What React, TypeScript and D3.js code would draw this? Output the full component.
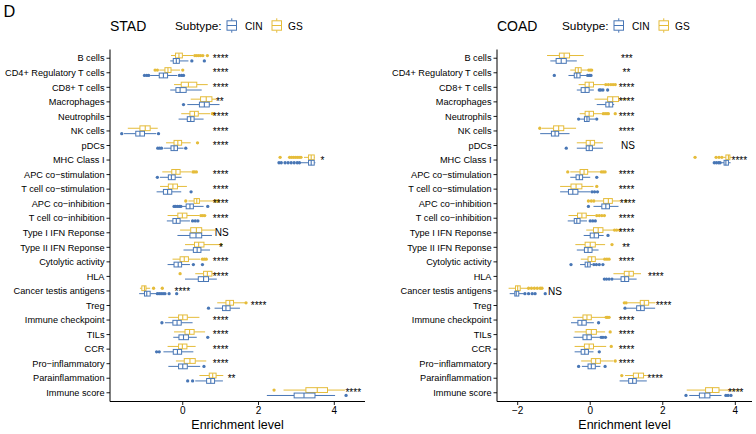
import React from "react";
import * as d3 from "d3";

const CATEGORIES = [
  "B cells", "CD4+ Regulatory T cells", "CD8+ T cells", "Macrophages", "Neutrophils", "NK cells", "pDCs",
  "MHC Class I", "APC co\u2212stimulation", "T cell co\u2212stimulation", "APC co\u2212inhibition", "T cell co\u2212inhibition",
  "Type I IFN Reponse", "Type II IFN Reponse", "Cytolytic activity", "HLA", "Cancer testis antigens", "Treg",
  "Immune checkpoint", "TILs", "CCR", "Pro\u2212inflammatory", "Parainflammation", "Immune score",
];

const SUBTYPES = ["CIN", "GS"];

// [lower whisker, q1, median, q3, upper whisker]
const STAD_GS_STATS = [
  [-0.31, -0.19, -0.1, -0.01, 0.28], [-0.62, -0.47, -0.39, -0.31, -0.07], [-0.23, -0.04, 0.15, 0.37, 0.66],
  [0.21, 0.47, 0.62, 0.77, 0.9], [-0.04, 0.19, 0.31, 0.41, 0.72], [-1.45, -1.13, -0.99, -0.86, -0.66],
  [-0.44, -0.23, -0.13, -0.03, 0.21], [3.2, 3.32, 3.39, 3.47, 3.49], [-0.54, -0.29, -0.18, -0.07, 0.22],
  [-0.6, -0.38, -0.26, -0.14, 0.11], [0.15, 0.3, 0.37, 0.44, 0.8], [-0.4, -0.13, -0.01, 0.11, 0.44],
  [-0.07, 0.21, 0.36, 0.5, 0.85], [0.06, 0.31, 0.42, 0.56, 0.98], [-0.27, -0.07, 0.04, 0.15, 0.46],
  [0.33, 0.55, 0.65, 0.77, 0.94], [-1.13, -1.08, -1.01, -0.97, -0.86], [0.91, 1.14, 1.24, 1.34, 1.64],
  [-0.38, -0.11, 0.0, 0.12, 0.44], [-0.23, 0.06, 0.18, 0.3, 0.59], [-0.4, -0.11, -0.01, 0.11, 0.34],
  [-0.18, 0.04, 0.19, 0.33, 0.62], [0.44, 0.7, 0.79, 0.88, 1.07], [2.66, 3.25, 3.55, 3.82, 4.28],
];
const STAD_GS_OUT = [
  [0.32, 0.37, 0.42, 0.47, 0.53, 0.65], [-0.73, -0.67, 0.0], [], [], [0.78, 0.81], [], [0.39],
  [2.57, 2.82, 2.87, 2.92, 2.97, 3.02, 3.07, 3.12], [0.27, 0.31, 0.36], [], [0.08, 0.85, 0.9, 0.94], [0.48, 0.53, 0.58],
  [], [1.01], [0.52, 0.57, 0.62], [-0.07], [-0.77, -0.54], [1.67], [], [], [], [], [], [2.41],
];
const STAD_CIN_STATS = [
  [-0.33, -0.25, -0.17, -0.09, 0.15], [-0.86, -0.62, -0.51, -0.4, -0.15], [-0.33, -0.18, -0.07, 0.09, 0.5],
  [0.12, 0.44, 0.57, 0.7, 0.97], [-0.11, 0.12, 0.21, 0.3, 0.55], [-1.55, -1.24, -1.13, -1.01, -0.7],
  [-0.5, -0.31, -0.23, -0.14, 0.02], [3.12, 3.32, 3.39, 3.47, 3.5], [-0.6, -0.38, -0.3, -0.2, -0.03],
  [-0.69, -0.51, -0.4, -0.29, -0.04], [-0.02, 0.09, 0.19, 0.28, 0.55], [-0.42, -0.26, -0.17, -0.07, 0.19],
  [-0.14, 0.19, 0.35, 0.5, 0.77], [0.02, 0.28, 0.38, 0.48, 0.72], [-0.4, -0.23, -0.12, -0.03, 0.19],
  [0.06, 0.41, 0.55, 0.68, 0.9], [-1.15, -1.01, -0.95, -0.86, -0.7], [0.84, 1.05, 1.14, 1.25, 1.51],
  [-0.47, -0.26, -0.15, -0.04, 0.26], [-0.25, -0.1, 0.02, 0.15, 0.37], [-0.51, -0.25, -0.14, -0.03, 0.28],
  [-0.38, -0.11, 0.0, 0.12, 0.46], [0.33, 0.63, 0.74, 0.84, 1.06], [2.22, 2.94, 3.2, 3.49, 4.02],
];
const STAD_CIN_OUT = [
  [0.24, 0.57], [-1.01, -0.95, -0.9, -0.09, -0.03, 0.02], [], [0.02], [], [-1.61, -0.64], [-0.66, -0.61, -0.56, 0.08],
  [2.54, 2.6, 2.7, 2.78, 2.86, 2.94, 3.02, 3.08], [-0.67], [0.22], [-0.23, -0.19, -0.14, -0.09, -0.05, 0.66],
  [0.26, 0.33, 0.4], [], [], [0.28, 0.52], [], [-0.67, -0.62, -0.57, -0.52, -0.47, -0.36, -0.16], [0.68], [-0.55],
  [0.66], [-0.69, -0.62], [0.56], [0.13, 0.26], [4.31],
];
const STAD_SIG = ["****", "****", "****", "**", "****", "****", "****", "*", "****", "****", "****", "****",
  "NS", "*", "****", "****", "****", "****", "****", "****", "****", "****", "**", "****"];
const STAD_SIG_X = [1, 1, 1, 0.98, 1, 1, 1, 3.69, 1, 1, 1, 1, 1.03, 1.01, 1, 1, -0.01, 2.0, 1, 1, 1, 1, 1.29, 4.5];

const COAD_GS_STATS = [
  [-1.19, -0.85, -0.72, -0.57, -0.18], [-0.55, -0.41, -0.33, -0.25, -0.07], [-0.32, -0.14, -0.03, 0.09, 0.4],
  [0.12, 0.48, 0.62, 0.78, 1.06], [-0.29, -0.14, -0.03, 0.09, 0.32], [-1.33, -1.01, -0.87, -0.73, -0.39],
  [-0.37, -0.11, 0.0, 0.12, 0.35], [3.67, 3.74, 3.81, 3.85, 3.9], [-0.55, -0.28, -0.17, -0.07, 0.28],
  [-0.83, -0.53, -0.39, -0.23, 0.09], [0.14, 0.37, 0.5, 0.61, 0.83], [-0.6, -0.35, -0.23, -0.11, 0.14],
  [-0.11, 0.09, 0.22, 0.35, 0.64], [-0.41, -0.14, 0.0, 0.14, 0.41], [-0.26, -0.06, 0.04, 0.14, 0.37],
  [0.64, 0.94, 1.07, 1.19, 1.4], [-2.25, -2.06, -2.0, -1.93, -1.74], [1.03, 1.38, 1.49, 1.61, 1.79],
  [-0.48, -0.2, -0.09, 0.03, 0.41], [-0.43, -0.11, 0.03, 0.17, 0.41], [-0.43, -0.16, -0.03, 0.09, 0.44],
  [-0.25, 0.03, 0.15, 0.28, 0.64], [0.96, 1.19, 1.33, 1.47, 1.56], [2.66, 3.18, 3.37, 3.55, 4.17],
];
const COAD_GS_OUT = [
  [], [-0.04, 0.0, 0.04], [0.43, 0.5, 0.57, 0.63, 0.69], [], [0.36, 0.41, 0.46, 0.5, 0.69], [-1.39], [],
  [2.89, 3.47, 3.55, 3.63], [-0.62, 0.31, 0.36, 0.41], [0.18], [-0.05, 0.03, 0.1, 0.98], [0.18, 0.25, 0.32, 0.39],
  [0.67, 0.73, 0.81], [0.6], [0.4, 0.46, 0.52], [], [-1.7, -1.62, -1.54, -1.46, -1.38, -1.33], [0.94, 0.99],
  [0.44, 0.48, 0.52], [0.55], [0.58], [0.69], [0.87], [],
];
const COAD_CIN_STATS = [
  [-1.1, -0.94, -0.8, -0.66, -0.37], [-0.6, -0.44, -0.37, -0.28, -0.1], [-0.37, -0.25, -0.14, -0.03, 0.1],
  [0.18, 0.43, 0.52, 0.62, 0.66], [-0.28, -0.16, -0.09, -0.03, 0.14], [-1.38, -1.07, -0.97, -0.87, -0.57],
  [-0.37, -0.11, -0.03, 0.06, 0.35], [3.6, 3.69, 3.74, 3.81, 3.87], [-0.55, -0.39, -0.3, -0.21, 0.0],
  [-0.83, -0.6, -0.48, -0.34, 0.0], [0.09, 0.32, 0.43, 0.53, 0.78], [-0.62, -0.44, -0.37, -0.28, -0.09],
  [-0.18, 0.0, 0.11, 0.23, 0.37], [-0.37, -0.16, -0.06, 0.05, 0.23], [-0.28, -0.14, -0.07, 0.0, 0.05],
  [0.64, 0.85, 0.95, 1.06, 1.28], [-2.22, -2.08, -2.04, -1.97, -1.83], [1.01, 1.28, 1.39, 1.49, 1.79],
  [-0.53, -0.34, -0.23, -0.11, 0.1], [-0.46, -0.2, -0.09, 0.03, 0.26], [-0.43, -0.25, -0.15, -0.05, 0.09],
  [-0.23, -0.06, 0.03, 0.14, 0.28], [0.81, 1.06, 1.17, 1.27, 1.56], [2.73, 3.01, 3.16, 3.3, 3.62],
];
const COAD_CIN_OUT = [
  [], [-0.99, -0.07, -0.02, 0.02], [0.25, 0.29, 0.35, 0.48], [], [-0.32, 0.18], [], [-0.66],
  [3.42, 3.48, 3.54, 3.58], [0.18], [0.05, 0.12, 0.2], [-0.05], [0.0, 0.07, 0.14], [0.49], [],
  [-0.53, 0.1, 0.17, 0.25, 0.35], [0.39, 0.45, 0.52, 0.6], [-1.8, -1.7, -1.6, -1.52, -1.24], [0.96], [0.23],
  [0.3, 0.35, 0.42], [0.25], [-0.32, 0.41], [], [2.64, 3.74, 3.8, 3.88],
];
const COAD_SIG = ["***", "**", "****", "****", "****", "****", "NS", "****", "****", "****", "****", "****",
  "****", "**", "****", "****", "NS", "****", "****", "****", "****", "****", "****", "****"];
const COAD_SIG_X = [1.01, 1.0, 1, 1, 1, 1, 1.04, 4.11, 1, 1, 1.03, 1, 1, 0.99, 1, 1.81, -0.97, 2.02, 1, 1, 1, 1, 1.79, 4.01];

const STAD_TICKS = [0, 2, 4];
const COAD_TICKS = [-2, 0, 2, 4];

const COLORS: Record<string, string> = { CIN: "#4876B5", GS: "#E5BC3A" };
const FONT = "'Liberation Sans', Arial, Helvetica, sans-serif";

type PanelProps = {
  title: string;
  x0: number;
  x1: number;
  domain: [number, number];
  ticks: number[];
  legendX: number;
  gsStats: number[][];
  gsOut: number[][];
  cinStats: number[][];
  cinOut: number[][];
  sig: string[];
  sigX: number[];
};

const TOP = 49.5;
const BOTTOM = 401.5;
const BOX_H = 4.8;
const OFFSET = 2.7;

function LegendKey({ x, color }: { x: number; color: string }) {
  const w = 9.5;
  const cx = x + w / 2;
  return (
    <g stroke={color} strokeWidth={1} fill="white">
      <line x1={cx} x2={cx} y1={18.3} y2={20.8} />
      <line x1={cx} x2={cx} y1={30.2} y2={32.7} />
      <rect x={x} y={20.8} width={w} height={9.4} />
      <line x1={x} x2={x + w} y1={25.5} y2={25.5} />
    </g>
  );
}

function Box({ stats, out, y, x, color }: { stats: number[]; out: number[]; y: number; x: d3.ScaleLinear<number, number>; color: string }) {
  const [lo, q1, med, q3, hi] = stats;
  return (
    <g>
      <line x1={x(lo)} x2={x(q1)} y1={y} y2={y} stroke={color} strokeWidth={1} />
      <line x1={x(q3)} x2={x(hi)} y1={y} y2={y} stroke={color} strokeWidth={1} />
      <rect x={x(q1)} y={y - BOX_H / 2} width={x(q3) - x(q1)} height={BOX_H} fill="white" stroke={color} strokeWidth={1} />
      <line x1={x(med)} x2={x(med)} y1={y - BOX_H / 2} y2={y + BOX_H / 2} stroke={color} strokeWidth={1.1} />
      {out.map((o, i) => (
        <circle key={i} cx={x(o)} cy={y} r={1.65} fill={color} />
      ))}
    </g>
  );
}

function Panel(p: PanelProps) {
  const x = d3.scaleLinear().domain(p.domain).range([p.x0, p.x1]);
  const y = d3.scalePoint<string>().domain(CATEGORIES).range([TOP, BOTTOM]).padding(0.6);
  const fmt = (v: number) => (v < 0 ? "\u2212" + Math.abs(v) : String(v));
  const lx = p.legendX;
  return (
    <g fontFamily={FONT}>
      <text x={p.x0} y={31} fontSize={14}>{p.title}</text>
      <text x={lx} y={30} fontSize={11.8}>Subtype:</text>
      <LegendKey x={lx + 52} color={COLORS.CIN} />
      <text x={lx + 70} y={30} fontSize={10.2}>{SUBTYPES[0]}</text>
      <LegendKey x={lx + 97} color={COLORS.GS} />
      <text x={lx + 113} y={30} fontSize={10.2}>{SUBTYPES[1]}</text>

      {CATEGORIES.map((c, i) => {
        const yc = y(c) as number;
        return (
          <g key={c}>
            <Box stats={p.gsStats[i]} out={p.gsOut[i]} y={yc - OFFSET} x={x} color={COLORS.GS} />
            <Box stats={p.cinStats[i]} out={p.cinOut[i]} y={yc + OFFSET} x={x} color={COLORS.CIN} />
            <text x={x(p.sigX[i])} y={yc + 3.6} fontSize={10} textAnchor="middle" fill="black">{p.sig[i]}</text>
          </g>
        );
      })}

      {/* y axis */}
      <line x1={p.x0} x2={p.x0} y1={TOP} y2={BOTTOM} stroke="black" strokeWidth={1} />
      {CATEGORIES.map((c) => {
        const yc = y(c) as number;
        return (
          <g key={"t" + c}>
            <line x1={p.x0 - 3.5} x2={p.x0} y1={yc} y2={yc} stroke="black" strokeWidth={0.9} />
            <text x={p.x0 - 5.5} y={yc + 3.2} fontSize={9.2} textAnchor="end" fill="black">{c}</text>
          </g>
        );
      })}

      {/* x axis */}
      <line x1={p.x0} x2={p.x1} y1={BOTTOM} y2={BOTTOM} stroke="black" strokeWidth={1} />
      {p.ticks.map((t) => (
        <g key={"x" + t}>
          <line x1={x(t)} x2={x(t)} y1={BOTTOM} y2={BOTTOM + 3.5} stroke="black" strokeWidth={0.9} />
          <text x={x(t)} y={414.3} fontSize={10} textAnchor="middle">{fmt(t)}</text>
        </g>
      ))}
      <text x={(p.x0 + p.x1) / 2} y={428.5} fontSize={12.5} textAnchor="middle">Enrichment level</text>
    </g>
  );
}

export default function App() {
  return (
    <svg width={756} height={434} style={{ position: "absolute", left: 0, top: 0, background: "white" }}>
      <rect width={756} height={434} fill="white" />
      <text x={3.5} y={17} fontSize={16.3} fontFamily={FONT}>D</text>
      <Panel title="STAD" x0={110} x1={365} domain={[-1.92, 4.81]} ticks={STAD_TICKS} legendX={175}
        gsStats={STAD_GS_STATS} gsOut={STAD_GS_OUT} cinStats={STAD_CIN_STATS} cinOut={STAD_CIN_OUT}
        sig={STAD_SIG} sigX={STAD_SIG_X} />
      <Panel title="COAD" x0={497} x1={752} domain={[-2.57, 4.46]} ticks={COAD_TICKS} legendX={562}
        gsStats={COAD_GS_STATS} gsOut={COAD_GS_OUT} cinStats={COAD_CIN_STATS} cinOut={COAD_CIN_OUT}
        sig={COAD_SIG} sigX={COAD_SIG_X} />
    </svg>
  );
}
